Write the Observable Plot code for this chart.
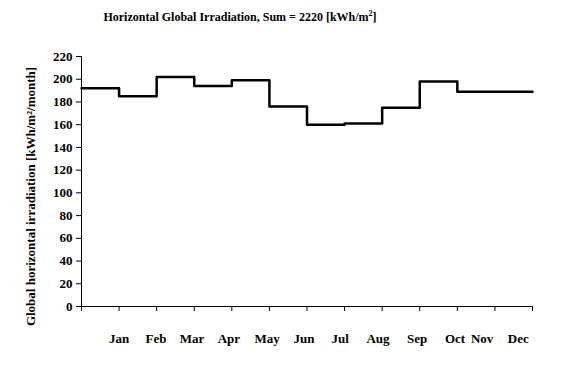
<!DOCTYPE html>
<html>
<head>
<meta charset="utf-8">
<script src="https://cdn.jsdelivr.net/npm/d3@7"></script>
<script src="https://cdn.jsdelivr.net/npm/@observablehq/plot@0.6"></script>
<style>
  body { margin: 0; background: #fff; }
  #wrap { width: 577px; position: relative; font-family: "Liberation Serif", "Times New Roman", serif; }
  #title { height: 40px; position: relative; }
  #title span { position: absolute; left: 240px; top: 9px; transform: translateX(-50%); white-space: nowrap;
    font-weight: bold; font-size: 12px; color: #000; }
  #title sup { font-size: 8px; }
  svg { display: block; }
</style>
</head>
<body>
<div id="wrap">
  <div id="title"><span>Horizontal Global Irradiation, Sum = 2220 [kWh/m<sup>2</sup>]</span></div>
  <div id="chart"></div>
</div>
<script>
const months = ["Jan","Feb","Mar","Apr","May","Jun","Jul","Aug","Sep","Oct","Nov","Dec"];
const irradiation = [192, 185, 202, 194, 199, 176, 160, 161, 175, 198, 189, 189];
const yTicks = [0, 20, 40, 60, 80, 100, 120, 140, 160, 180, 200, 220];
const monthLabelPos = [1, 1.98, 2.94, 3.92, 4.94, 5.92, 6.88, 7.89, 8.93, 9.94, 10.66, 11.62];
const yLabel = "Global horizontal irradiation [kWh/m²/month]";

const stepData = irradiation.map((v, i) => ({x: i, y: v}));
stepData.push({x: irradiation.length, y: irradiation[irradiation.length - 1]});
const labelData = months.map((m, i) => ({m, x: monthLabelPos[i]}));
const xTicks = d3.range(0, months.length + 1);

const font = "bold 13px 'Liberation Serif', 'Times New Roman', serif";

const chart = Plot.plot({
  width: 577,
  height: 326,
  marginLeft: 81,
  marginRight: 45,
  marginTop: 16,
  marginBottom: 60,
  style: {font, color: "#000", background: "#fff", overflow: "visible"},
  x: {domain: [0, 12], axis: null},
  y: {domain: [0, 220], axis: null},
  marks: [
    Plot.axisY({ticks: yTicks, tickSize: 5, tickPadding: 4, tickFormat: d => d, label: null,
      fontWeight: "bold", fontSize: 13, stroke: "#000", strokeWidth: 1}),
    Plot.axisX({ticks: xTicks, tickSize: 5, tickFormat: () => "", label: null, stroke: "#000", strokeWidth: 1}),
    Plot.ruleX([0], {stroke: "#000", strokeWidth: 1}),
    Plot.ruleY([0], {stroke: "#000", strokeWidth: 1}),
    Plot.line(stepData, {x: "x", y: "y", curve: "step-after", stroke: "#000", strokeWidth: 2.5}),
    Plot.text(labelData, {x: "x", y: () => 0, text: "m", dy: 32, fontWeight: "bold", fontSize: 13}),
    Plot.text([yLabel], {frameAnchor: "left", text: d => d, rotate: -90, textAnchor: "middle",
      dx: -51, dy: 15, fontWeight: "bold", fontSize: 13})
  ]
});
document.getElementById("chart").appendChild(chart);
</script>
</body>
</html>
